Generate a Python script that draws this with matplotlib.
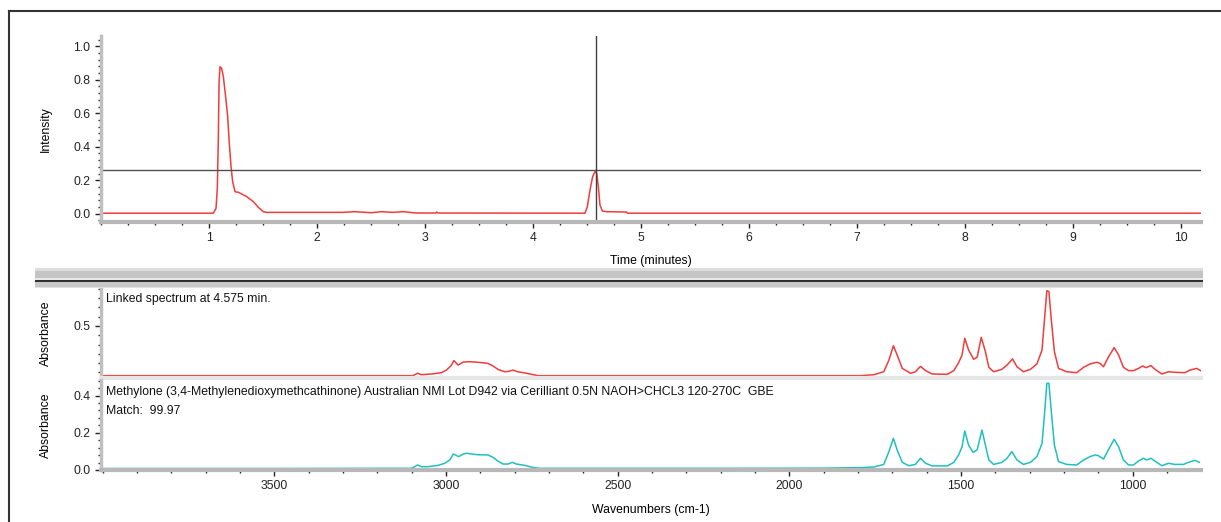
import numpy as np
import matplotlib
matplotlib.use('Agg')
import matplotlib.pyplot as plt
from matplotlib.patches import Rectangle
from matplotlib.lines import Line2D
from matplotlib.ticker import MultipleLocator, FixedLocator, FormatStrFormatter

plt.rcParams['font.family'] = ['Liberation Sans', 'DejaVu Sans']

# chromatogram (time in minutes, intensity)
chrom_time = [0.0, 1.04, 1.065, 1.077, 1.086, 1.093, 1.102, 1.117, 1.133, 1.154,
              1.173, 1.188, 1.204, 1.219, 1.241, 1.272, 1.349, 1.41, 1.457, 1.503,
              1.534, 2.244, 2.35, 2.5, 2.6, 2.7, 2.8, 2.9, 2.95, 3.1, 3.108, 3.12,
              4.481, 4.503, 4.528, 4.552, 4.574, 4.59, 4.605, 4.62, 4.642, 4.682,
              4.867, 4.873, 10.2]
chrom_int = [0.003, 0.003, 0.032, 0.152, 0.44, 0.779, 0.878, 0.868, 0.818, 0.699,
             0.579, 0.42, 0.281, 0.191, 0.131, 0.128, 0.102, 0.072, 0.038, 0.012,
             0.008, 0.008, 0.012, 0.006, 0.012, 0.008, 0.012, 0.005, 0.004, 0.004, 0.01, 0.004,
             0.003, 0.042, 0.142, 0.221, 0.251, 0.241, 0.161, 0.052, 0.016, 0.012,
             0.010, 0.003, 0.003]
cursor_time = 4.583
cursor_int = 0.261

# linked spectrum (red) at 4.575 min
red_wn = [4000, 3500, 3188, 3096, 3083, 3072, 3042, 3013, 2999, 2986, 2977, 2965,
          2950, 2931, 2907, 2878, 2863, 2849, 2829, 2818, 2805, 2791, 2766, 2732,
          2606, 2200, 1900, 1792, 1754, 1725, 1710, 1697, 1686, 1671, 1647, 1633,
          1618, 1603, 1584, 1540, 1521, 1507, 1497, 1489, 1478, 1463, 1453, 1441,
          1429, 1419, 1405, 1381, 1366, 1350, 1337, 1318, 1298, 1279, 1264, 1257,
          1250, 1244, 1237, 1228, 1216, 1192, 1163, 1143, 1124, 1104, 1095, 1085,
          1071, 1054, 1041, 1027, 1012, 998, 983, 971, 961, 947, 935, 915, 896,
          877, 848, 833, 814, 802]
red_abs = [0.233, 0.233, 0.233, 0.233, 0.246, 0.238, 0.242, 0.249, 0.263, 0.285, 0.314, 0.290,
           0.306, 0.308, 0.305, 0.299, 0.285, 0.267, 0.254, 0.256, 0.263, 0.254, 0.246, 0.233,
           0.233, 0.233, 0.233, 0.233, 0.238, 0.254, 0.317, 0.394, 0.344, 0.272, 0.246, 0.254,
           0.283, 0.260, 0.242, 0.240, 0.260, 0.303, 0.344, 0.434, 0.371, 0.321, 0.332, 0.439,
           0.362, 0.278, 0.254, 0.267, 0.290, 0.323, 0.281, 0.254, 0.267, 0.296, 0.371, 0.532,
           0.690, 0.685, 0.532, 0.362, 0.272, 0.254, 0.249, 0.278, 0.296, 0.305, 0.299, 0.281,
           0.332, 0.384, 0.344, 0.278, 0.260, 0.260, 0.272, 0.285, 0.276, 0.287, 0.267, 0.242, 0.254,
           0.251, 0.249, 0.263, 0.272, 0.260]

# library match (cyan)
lib_wn = [4000, 3500, 3188, 3101, 3091, 3083, 3072, 3052, 3023, 3004, 2989, 2979,
          2973, 2963, 2950, 2938, 2926, 2907, 2878, 2863, 2849, 2834, 2820, 2807,
          2795, 2771, 2747, 2728, 2606, 2200, 1900, 1792, 1754, 1725, 1710, 1697,
          1686, 1671, 1652, 1633, 1618, 1603, 1584, 1540, 1521, 1507, 1497, 1489,
          1478, 1465, 1453, 1439, 1429, 1419, 1405, 1381, 1366, 1352, 1337, 1318,
          1298, 1279, 1264, 1257, 1250, 1244, 1237, 1228, 1216, 1192, 1163, 1143,
          1124, 1109, 1100, 1085, 1071, 1054, 1041, 1027, 1012, 998, 983, 969, 959,
          947, 935, 915, 896, 877, 852, 838, 819, 806]
lib_abs = [0.008, 0.008, 0.009, 0.009, 0.018, 0.027, 0.018, 0.018, 0.025, 0.036, 0.054, 0.086,
           0.081, 0.072, 0.086, 0.090, 0.086, 0.082, 0.081, 0.068, 0.048, 0.032, 0.032, 0.041,
           0.032, 0.025, 0.014, 0.009, 0.009, 0.009, 0.010, 0.013, 0.016, 0.030, 0.099, 0.170,
           0.108, 0.041, 0.023, 0.030, 0.063, 0.036, 0.022, 0.022, 0.041, 0.081, 0.125, 0.210,
           0.134, 0.095, 0.108, 0.215, 0.134, 0.054, 0.030, 0.041, 0.063, 0.099, 0.054, 0.030,
           0.041, 0.072, 0.143, 0.296, 0.466, 0.466, 0.314, 0.134, 0.045, 0.030, 0.027, 0.054,
           0.072, 0.081, 0.077, 0.059, 0.108, 0.165, 0.125, 0.054, 0.027, 0.027, 0.048, 0.063, 0.054,
           0.063, 0.048, 0.023, 0.036, 0.030, 0.030, 0.041, 0.052, 0.041]

wn_ticks = [3500, 3000, 2500, 2000, 1500, 1000]

linked_text = 'Linked spectrum at 4.575 min.'
lib_text = 'Methylone (3,4-Methylenedioxymethcathinone) Australian NMI Lot D942 via Cerilliant 0.5N NAOH>CHCL3 120-270C  GBE'
match_text = 'Match:  99.97'

W, H = 1221, 522
fig = plt.figure(figsize=(W / 100, H / 100), dpi=100)
fig.patch.set_facecolor('white')

def fx(px):
    return px / W

def fy(py):
    return 1 - py / H

def style_axis(ax, show_bottom=True):
    for s in ['top', 'right']:
        ax.spines[s].set_visible(False)
    ax.spines['left'].set_color('#c0c0c0')
    ax.spines['left'].set_linewidth(2.5)
    ax.spines['bottom'].set_color('#b8b8b8')
    ax.spines['bottom'].set_linewidth(3)
    if not show_bottom:
        ax.spines['bottom'].set_color('#e6e6e6')
        ax.tick_params(axis='x', which='both', bottom=False, labelbottom=False)
    ax.tick_params(which='both', colors='#222222', labelsize=8.8, width=1)
    ax.tick_params(which='major', length=4)
    ax.tick_params(which='minor', length=2)

red = '#f03c3c'
cyan = '#20bfbf'
fs = 8.8

# --- chromatogram ---
ax1 = fig.add_axes([fx(101), fy(222), fx(1100), 186 / H])
ax1.plot(chrom_time, chrom_int, color=red, lw=1.1)
ax1.axhline(cursor_int, color='#505050', lw=1)
ax1.axvline(cursor_time, color='#404040', lw=1)
ax1.set_xlim(0, 10.185)
ax1.set_ylim(-0.0496, 1.0615)
ax1.xaxis.set_major_locator(FixedLocator([1, 2, 3, 4, 5, 6, 7, 8, 9, 10]))
ax1.xaxis.set_minor_locator(MultipleLocator(0.25))
ax1.yaxis.set_major_locator(MultipleLocator(0.2))
ax1.yaxis.set_minor_locator(MultipleLocator(0.04))
ax1.yaxis.set_major_formatter(FormatStrFormatter('%.1f'))
style_axis(ax1)
ax1.set_xlabel('Time (minutes)', fontsize=fs)
ax1.xaxis.set_label_coords(0.5, -0.175)
ax1.set_ylabel('Intensity', fontsize=fs)
ax1.yaxis.set_label_coords(-0.045, 0.5)

# --- linked spectrum ---
ax2 = fig.add_axes([fx(101), fy(378), fx(1100), 90 / H])
ax2.plot(red_wn, red_abs, color=red, lw=1.1)
ax2.set_xlim(4005, 801)
ax2.set_ylim(0.2204, 0.7043)
ax2.yaxis.set_major_locator(FixedLocator([0.5]))
ax2.yaxis.set_minor_locator(MultipleLocator(0.05))
ax2.yaxis.set_major_formatter(FormatStrFormatter('%.1f'))
style_axis(ax2, show_bottom=False)
ax2.set_ylabel('Absorbance', fontsize=fs)
ax2.yaxis.set_label_coords(-0.045, 0.5)
ax2.text(0.0045, 0.878, linked_text, transform=ax2.transAxes, fontsize=fs,
         va='center', ha='left', color='#111111')

# --- library spectrum ---
ax3 = fig.add_axes([fx(101), fy(470), fx(1100), 90 / H])
ax3.plot(lib_wn, lib_abs, color=cyan, lw=1.1)
ax3.set_xlim(4005, 801)
ax3.set_ylim(0, 0.484)
ax3.xaxis.set_major_locator(FixedLocator(wn_ticks))
ax3.xaxis.set_minor_locator(MultipleLocator(100))
ax3.yaxis.set_major_locator(MultipleLocator(0.2))
ax3.yaxis.set_minor_locator(MultipleLocator(0.04))
ax3.yaxis.set_major_formatter(FormatStrFormatter('%.1f'))
style_axis(ax3)
ax3.set_xlabel('Wavenumbers (cm-1)', fontsize=fs)
ax3.xaxis.set_label_coords(0.5, -0.38)
ax3.set_ylabel('Absorbance', fontsize=fs)
ax3.yaxis.set_label_coords(-0.045, 0.5)
ax3.text(0.0045, 0.87, lib_text, transform=ax3.transAxes, fontsize=fs,
         va='center', ha='left', color='#111111')
ax3.text(0.0045, 0.656, match_text, transform=ax3.transAxes, fontsize=fs,
         va='center', ha='left', color='#111111')

# separator bar between chromatogram and spectra
bands = [(268, 271, '#dcdcdc'), (271, 278, '#c4c4c4'), (278, 280, '#e8e8e8'),
         (280, 282, '#303030'), (282, 287, '#c8c8c8'), (287, 288, '#e0e0e0')]
for y0, y1, c in bands:
    fig.add_artist(Rectangle((fx(35), fy(y1)), fx(1203 - 35), (y1 - y0) / H,
                             transform=fig.transFigure, facecolor=c, edgecolor='none'))

# outer frame (left and top)
fig.add_artist(Line2D([fx(9), fx(9)], [0, fy(11)], color='#333333', lw=1.5,
                      transform=fig.transFigure))
fig.add_artist(Line2D([fx(9), 1], [fy(11), fy(11)], color='#333333', lw=1.5,
                      transform=fig.transFigure))

fig.savefig('out.png', dpi=100)
